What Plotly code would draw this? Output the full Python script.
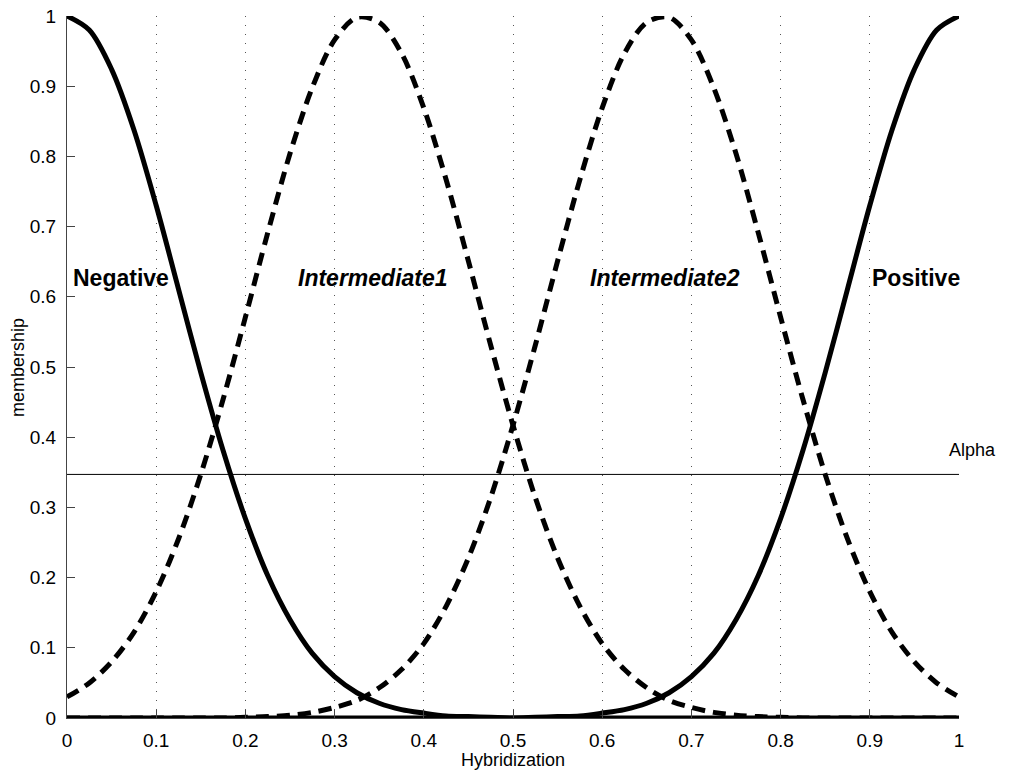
import plotly.graph_objects as go

# Sample positions on the Hybridization axis
x_vals = [0.000, 0.025, 0.050, 0.075, 0.100, 0.125, 0.150, 0.175, 0.200, 0.225,
          0.250, 0.275, 0.300, 0.325, 0.350, 0.375, 0.400, 0.425, 0.450, 0.475,
          0.500, 0.525, 0.550, 0.575, 0.600, 0.625, 0.650, 0.675, 0.700, 0.725,
          0.750, 0.775, 0.800, 0.825, 0.850, 0.875, 0.900, 0.925, 0.950, 0.975,
          1.000]

negative = [1.000, 0.980, 0.924, 0.838, 0.730, 0.611, 0.492, 0.381, 0.284, 0.203,
            0.140, 0.092, 0.059, 0.036, 0.021, 0.012, 0.007, 0.003, 0.002, 0.001,
            0.000, 0.000, 0.000, 0.000, 0.000, 0.000, 0.000, 0.000, 0.000, 0.000,
            0.000, 0.000, 0.000, 0.000, 0.000, 0.000, 0.000, 0.000, 0.000, 0.000,
            0.000]

intermediate1 = [0.030, 0.050, 0.080, 0.122, 0.180, 0.255, 0.347, 0.454, 0.571, 0.691,
                 0.804, 0.898, 0.966, 0.998, 0.991, 0.947, 0.869, 0.767, 0.651, 0.531,
                 0.417, 0.314, 0.228, 0.159, 0.106, 0.069, 0.043, 0.025, 0.015, 0.008,
                 0.004, 0.002, 0.001, 0.000, 0.000, 0.000, 0.000, 0.000, 0.000, 0.000,
                 0.000]

intermediate2 = [0.000, 0.000, 0.000, 0.000, 0.000, 0.000, 0.000, 0.000, 0.001, 0.002,
                 0.004, 0.008, 0.015, 0.025, 0.043, 0.069, 0.106, 0.159, 0.228, 0.314,
                 0.417, 0.531, 0.651, 0.767, 0.869, 0.947, 0.991, 0.998, 0.966, 0.898,
                 0.804, 0.691, 0.571, 0.454, 0.347, 0.255, 0.180, 0.122, 0.080, 0.050,
                 0.030]

positive = [0.000, 0.000, 0.000, 0.000, 0.000, 0.000, 0.000, 0.000, 0.000, 0.000,
            0.000, 0.000, 0.000, 0.000, 0.000, 0.000, 0.000, 0.000, 0.000, 0.000,
            0.000, 0.001, 0.002, 0.003, 0.007, 0.012, 0.021, 0.036, 0.059, 0.092,
            0.140, 0.203, 0.284, 0.381, 0.492, 0.611, 0.730, 0.838, 0.924, 0.980,
            1.000]

alpha_x = [0.0, 1.0]
alpha_level = [0.347, 0.347]

tick_vals = [0, 0.1, 0.2, 0.3, 0.4, 0.5, 0.6, 0.7, 0.8, 0.9, 1]
tick_text = ["0", "0.1", "0.2", "0.3", "0.4", "0.5", "0.6", "0.7", "0.8", "0.9", "1"]

label_names = ["<b>Negative</b>", "<b><i>Intermediate1</i></b>",
               "<b><i>Intermediate2</i></b>", "<b>Positive</b>"]
label_x = [0.005, 0.343, 0.670, 1.003]
label_y = [0.627, 0.627, 0.627, 0.627]
label_anchor = ["left", "center", "center", "right"]

FONT = "Liberation Sans, Arial, Helvetica, sans-serif"

fig = go.Figure()

fig.add_trace(go.Scatter(x=alpha_x, y=alpha_level, mode="lines",
                         line=dict(color="black", width=1), cliponaxis=False,
                         showlegend=False, hoverinfo="skip"))

series = [(negative, "solid"), (intermediate1, "13px,8px"),
          (intermediate2, "13px,8px"), (positive, "solid")]
for ys, dash in series:
    fig.add_trace(go.Scatter(x=x_vals, y=ys, mode="lines",
                             line=dict(color="black", width=5, dash=dash,
                                       shape="spline", smoothing=0.9),
                             cliponaxis=False, showlegend=False))

# x/y ranges are [0, 1], so paper coordinates coincide with data coordinates
for name, lx, ly, anc in zip(label_names, label_x, label_y, label_anchor):
    fig.add_annotation(x=lx, y=ly, xref="paper", yref="paper", text=name,
                       showarrow=False, xanchor=anc, yanchor="middle",
                       font=dict(family=FONT, size=23, color="black"))

fig.add_annotation(x=1.015, y=0.382, xref="paper", yref="paper", text="Alpha",
                   showarrow=False, xanchor="center", yanchor="middle",
                   font=dict(family=FONT, size=18, color="black"))

# axis titles
fig.add_annotation(x=0.5, y=-0.060, xref="paper", yref="paper", text="Hybridization",
                   showarrow=False, xanchor="center", yanchor="middle",
                   font=dict(family=FONT, size=18, color="black"))
fig.add_annotation(x=-0.055, y=0.5, xref="paper", yref="paper", text="membership",
                   showarrow=False, xanchor="center", yanchor="middle", textangle=-90,
                   font=dict(family=FONT, size=18, color="black"))

fig.update_layout(
    width=1010, height=770,
    margin=dict(l=67, r=51, t=16, b=52, autoexpand=False),
    paper_bgcolor="white", plot_bgcolor="white",
    font=dict(family=FONT, size=18, color="black"),
    showlegend=False,
)

fig.update_xaxes(
    range=[0, 1], tickmode="array", tickvals=tick_vals, ticktext=tick_text,
    ticks="inside", ticklen=8, tickcolor="#444", tickwidth=1,
    showline=True, linecolor="#444", linewidth=1, mirror=False,
    showgrid=True, gridcolor="#555", gridwidth=1, griddash="1px,8px",
    zeroline=False, automargin=False, ticklabelstandoff=5,
    tickfont=dict(family=FONT, size=19),
)

fig.update_yaxes(
    range=[0, 1], tickmode="array", tickvals=tick_vals, ticktext=tick_text,
    ticks="inside", ticklen=8, tickcolor="#444", tickwidth=1,
    showline=True, linecolor="#444", linewidth=1, mirror=False,
    showgrid=False, zeroline=False, automargin=False, ticklabelstandoff=6,
    tickfont=dict(family=FONT, size=19),
)

fig.write_html("out.html",
               config={"displayModeBar": False},
               post_script="document.body.style.margin='0px';"
                           "document.body.style.overflow='hidden';")
